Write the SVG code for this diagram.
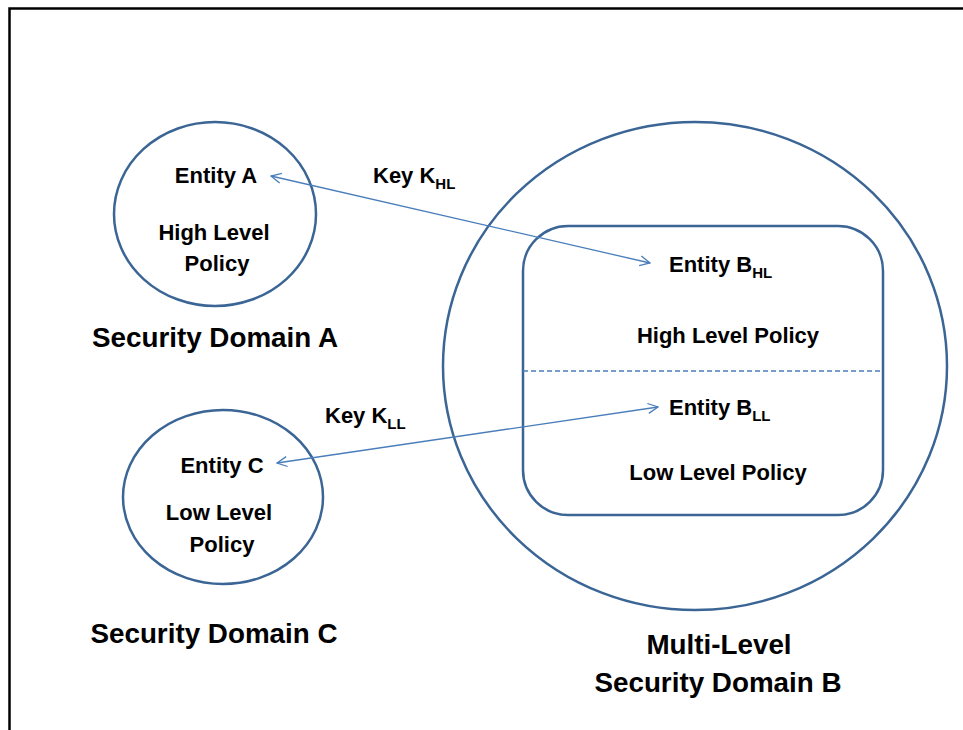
<svg xmlns="http://www.w3.org/2000/svg" width="963" height="730" viewBox="0 0 963 730">
<defs>
<style>
.frame{stroke:#000;stroke-width:2.5;fill:none}
.shape{fill:none;stroke:#3A6595;stroke-width:2.5}
.conn{stroke:#4A7EBB;stroke-width:1.3;fill:none}
.dash{stroke:#4A7EBB;stroke-width:1.3;stroke-dasharray:5 3;fill:none}
text{font-family:"Liberation Sans",Arial,sans-serif;font-weight:bold;fill:#000}
.s{font-size:22px}
.b{font-size:27.8px}
.sub{font-size:15px}
</style>
<marker id="ah" viewBox="0 0 12 12" refX="11" refY="6" markerWidth="12" markerHeight="12" markerUnits="userSpaceOnUse" orient="auto-start-reverse">
<path d="M1,1 L11,6 L1,11" fill="none" stroke="#4A7EBB" stroke-width="1.3"/>
</marker>
</defs>
<rect width="963" height="730" fill="#fff"/>
<path class="frame" d="M9.5,730 L9.5,8.5 L963,8.5"/>

<g id="domainA">
<ellipse class="shape" cx="215" cy="214" rx="101" ry="92"/>
<text class="s" x="216" y="183" text-anchor="middle">Entity A</text>
<text class="s" x="214" y="240" text-anchor="middle">High Level</text>
<text class="s" x="217" y="271" text-anchor="middle">Policy</text>
<text class="b" x="215" y="347" text-anchor="middle">Security Domain A</text>
</g>

<g id="domainC">
<ellipse class="shape" cx="223" cy="497" rx="100" ry="87"/>
<text class="s" x="222" y="473" text-anchor="middle">Entity C</text>
<text class="s" x="219" y="520" text-anchor="middle">Low Level</text>
<text class="s" x="222" y="552" text-anchor="middle">Policy</text>
<text class="b" x="214" y="643" text-anchor="middle">Security Domain C</text>
</g>

<g id="domainB">
<ellipse class="shape" cx="695" cy="366" rx="252" ry="244"/>
<rect class="shape" x="523" y="226" width="360" height="289" rx="45" ry="45"/>
<line class="dash" x1="523" y1="371" x2="883" y2="371"/>
<text class="s" x="669" y="272">Entity B<tspan class="sub" dy="6">HL</tspan></text>
<text class="s" x="728" y="343" text-anchor="middle">High Level Policy</text>
<text class="s" x="669" y="415">Entity B<tspan class="sub" dy="6">LL</tspan></text>
<text class="s" x="718" y="480" text-anchor="middle">Low Level Policy</text>
<text class="b" x="719" y="654" text-anchor="middle">Multi-Level</text>
<text class="b" x="718" y="692" text-anchor="middle">Security Domain B</text>
</g>

<g id="connectors">
<line class="conn" x1="271" y1="176" x2="650" y2="263" marker-start="url(#ah)" marker-end="url(#ah)"/>
<line class="conn" x1="277" y1="463" x2="658" y2="407" marker-start="url(#ah)" marker-end="url(#ah)"/>
<text class="s" x="373" y="183">Key K<tspan class="sub" dy="6">HL</tspan></text>
<text class="s" x="325" y="423">Key K<tspan class="sub" dy="6">LL</tspan></text>
</g>
</svg>
